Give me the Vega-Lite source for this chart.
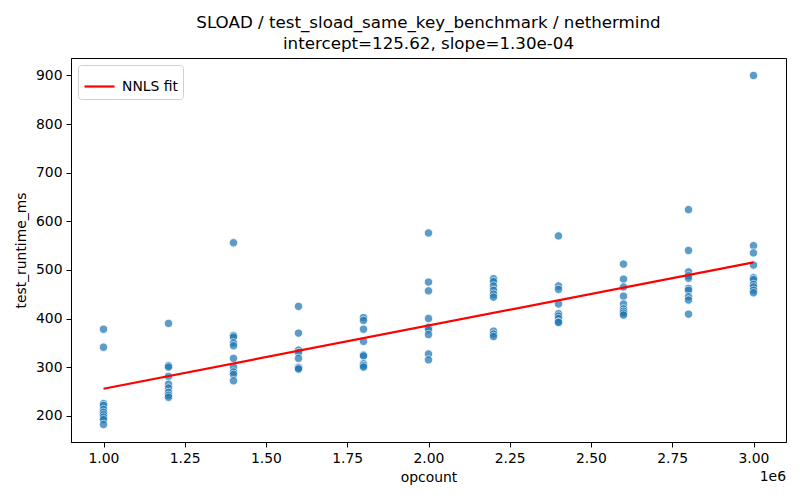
{
  "$schema": "https://vega.github.io/schema/vega-lite/v6.json",
  "autosize": {"type": "none"},
  "width": 715,
  "height": 384,
  "padding": {"left": 71, "top": 58, "right": 14, "bottom": 58},
  "background": "white",
  "title": {
    "text": ["SLOAD / test_sload_same_key_benchmark / nethermind", "intercept=125.62, slope=1.30e-04"],
    "font": "DejaVu Sans",
    "fontSize": 16.7,
    "fontWeight": "normal",
    "lineHeight": 21,
    "offset": 5,
    "color": "black"
  },
  "datasets": {
    "points": [
      {"opcount": 1000000, "ms": 378}, {"opcount": 1000000, "ms": 341}, {"opcount": 1000000, "ms": 225},
      {"opcount": 1000000, "ms": 221}, {"opcount": 1000000, "ms": 213}, {"opcount": 1000000, "ms": 207},
      {"opcount": 1000000, "ms": 202}, {"opcount": 1000000, "ms": 197}, {"opcount": 1000000, "ms": 192},
      {"opcount": 1000000, "ms": 182},
      {"opcount": 1200000, "ms": 390}, {"opcount": 1200000, "ms": 303}, {"opcount": 1200000, "ms": 300},
      {"opcount": 1200000, "ms": 281}, {"opcount": 1200000, "ms": 265}, {"opcount": 1200000, "ms": 257},
      {"opcount": 1200000, "ms": 248}, {"opcount": 1200000, "ms": 242}, {"opcount": 1200000, "ms": 238},
      {"opcount": 1400000, "ms": 556}, {"opcount": 1400000, "ms": 365}, {"opcount": 1400000, "ms": 362},
      {"opcount": 1400000, "ms": 350}, {"opcount": 1400000, "ms": 344}, {"opcount": 1400000, "ms": 318},
      {"opcount": 1400000, "ms": 300}, {"opcount": 1400000, "ms": 290}, {"opcount": 1400000, "ms": 285},
      {"opcount": 1400000, "ms": 272},
      {"opcount": 1600000, "ms": 425}, {"opcount": 1600000, "ms": 370}, {"opcount": 1600000, "ms": 335},
      {"opcount": 1600000, "ms": 330}, {"opcount": 1600000, "ms": 318}, {"opcount": 1600000, "ms": 300},
      {"opcount": 1600000, "ms": 298}, {"opcount": 1600000, "ms": 296},
      {"opcount": 1800000, "ms": 402}, {"opcount": 1800000, "ms": 396}, {"opcount": 1800000, "ms": 378},
      {"opcount": 1800000, "ms": 353}, {"opcount": 1800000, "ms": 325}, {"opcount": 1800000, "ms": 323},
      {"opcount": 1800000, "ms": 307}, {"opcount": 1800000, "ms": 303}, {"opcount": 1800000, "ms": 300},
      {"opcount": 2000000, "ms": 576}, {"opcount": 2000000, "ms": 475}, {"opcount": 2000000, "ms": 457},
      {"opcount": 2000000, "ms": 400}, {"opcount": 2000000, "ms": 382}, {"opcount": 2000000, "ms": 377},
      {"opcount": 2000000, "ms": 367}, {"opcount": 2000000, "ms": 327}, {"opcount": 2000000, "ms": 315},
      {"opcount": 2200000, "ms": 482}, {"opcount": 2200000, "ms": 476}, {"opcount": 2200000, "ms": 467},
      {"opcount": 2200000, "ms": 458}, {"opcount": 2200000, "ms": 450}, {"opcount": 2200000, "ms": 444},
      {"opcount": 2200000, "ms": 374}, {"opcount": 2200000, "ms": 368}, {"opcount": 2200000, "ms": 363},
      {"opcount": 2400000, "ms": 570}, {"opcount": 2400000, "ms": 467}, {"opcount": 2400000, "ms": 460},
      {"opcount": 2400000, "ms": 430}, {"opcount": 2400000, "ms": 410}, {"opcount": 2400000, "ms": 405},
      {"opcount": 2400000, "ms": 400}, {"opcount": 2400000, "ms": 393}, {"opcount": 2400000, "ms": 392},
      {"opcount": 2600000, "ms": 512}, {"opcount": 2600000, "ms": 481}, {"opcount": 2600000, "ms": 465},
      {"opcount": 2600000, "ms": 446}, {"opcount": 2600000, "ms": 430}, {"opcount": 2600000, "ms": 420},
      {"opcount": 2600000, "ms": 415}, {"opcount": 2600000, "ms": 411}, {"opcount": 2600000, "ms": 407},
      {"opcount": 2800000, "ms": 624}, {"opcount": 2800000, "ms": 540}, {"opcount": 2800000, "ms": 496},
      {"opcount": 2800000, "ms": 488}, {"opcount": 2800000, "ms": 483}, {"opcount": 2800000, "ms": 462},
      {"opcount": 2800000, "ms": 458}, {"opcount": 2800000, "ms": 445}, {"opcount": 2800000, "ms": 438},
      {"opcount": 2800000, "ms": 409},
      {"opcount": 3000000, "ms": 900}, {"opcount": 3000000, "ms": 550}, {"opcount": 3000000, "ms": 535},
      {"opcount": 3000000, "ms": 510}, {"opcount": 3000000, "ms": 484}, {"opcount": 3000000, "ms": 480},
      {"opcount": 3000000, "ms": 470}, {"opcount": 3000000, "ms": 465}, {"opcount": 3000000, "ms": 458},
      {"opcount": 3000000, "ms": 453}
    ],
    "fit": [
      {"opcount": 1000000, "ms": 255.62, "label": "NNLS fit"},
      {"opcount": 3000000, "ms": 515.62, "label": "NNLS fit"}
    ],
    "exponent": [
      {"opcount": 3100000, "ms": 146, "text": "1e6"}
    ]
  },
  "layer": [
    {
      "data": {"name": "points"},
      "mark": {"type": "point", "filled": true, "shape": "circle", "size": 70, "color": "#1f77b4", "opacity": 0.72, "stroke": "white", "strokeWidth": 0.8, "strokeOpacity": 1},
      "encoding": {
        "x": {
          "field": "opcount", "type": "quantitative",
          "scale": {"domain": [900000, 3100000], "nice": false, "zero": false},
          "axis": {
            "title": "opcount",
            "values": [1000000, 1250000, 1500000, 1750000, 2000000, 2250000, 2500000, 2750000, 3000000],
            "labelExpr": "format(datum.value / 1000000, '.2f')",
            "titlePadding": 6
          }
        },
        "y": {
          "field": "ms", "type": "quantitative",
          "scale": {"domain": [146, 936], "nice": false, "zero": false},
          "axis": {
            "title": "test_runtime_ms",
            "values": [200, 300, 400, 500, 600, 700, 800, 900],
            "titlePadding": 7
          }
        }
      }
    },
    {
      "data": {"name": "fit"},
      "mark": {"type": "line", "strokeWidth": 2.2},
      "encoding": {
        "x": {"field": "opcount", "type": "quantitative"},
        "y": {"field": "ms", "type": "quantitative"},
        "color": {
          "field": "label", "type": "nominal",
          "scale": {"range": ["#ff0000"]},
          "legend": {
            "title": null,
            "orient": "top-left",
            "offset": 7,
            "symbolType": "stroke",
            "symbolSize": 900,
            "symbolStrokeWidth": 2.2,
            "labelFontSize": 13.9,
            "labelFont": "DejaVu Sans",
            "labelColor": "black",
            "strokeColor": "#d0d0d0",
            "fillColor": "white",
            "cornerRadius": 3,
            "padding": 5,
            "labelOffset": 6
          }
        }
      }
    },
    {
      "data": {"name": "exponent"},
      "mark": {"type": "text", "align": "right", "baseline": "top", "dy": 28, "fontSize": 13.9, "font": "DejaVu Sans", "color": "black", "clip": false},
      "encoding": {
        "x": {"field": "opcount", "type": "quantitative"},
        "y": {"field": "ms", "type": "quantitative"},
        "text": {"field": "text"}
      }
    }
  ],
  "config": {
    "view": {"stroke": "black", "strokeWidth": 1},
    "axis": {
      "grid": false,
      "domainColor": "black",
      "tickColor": "black",
      "tickSize": 5,
      "labelFont": "DejaVu Sans",
      "labelFontSize": 13.9,
      "labelColor": "black",
      "labelPadding": 4,
      "titleFont": "DejaVu Sans",
      "titleFontSize": 13.9,
      "titleFontWeight": "normal",
      "titleColor": "black"
    }
  }
}
